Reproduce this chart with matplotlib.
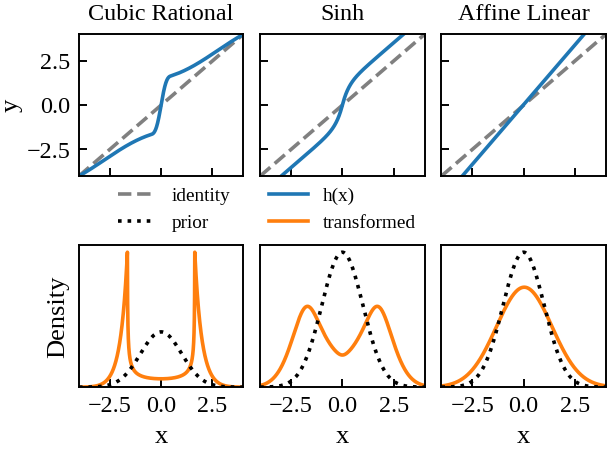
import numpy as np
import matplotlib
matplotlib.use("Agg")
import matplotlib.pyplot as plt
from matplotlib.lines import Line2D

plt.rcParams['font.family'] = ['Liberation Serif', 'DejaVu Serif']
plt.rcParams['mathtext.fontset'] = 'stix'
plt.rcParams['xtick.direction'] = 'in'
plt.rcParams['ytick.direction'] = 'in'
plt.rcParams['font.size'] = 10

titles = ["Cubic Rational", "Sinh", "Affine Linear"]
ticks = [-2.5, 0.0, 2.5]
lims = [-4, 4]

# spline knots / derivatives of the rational flow
knot_x = [-4.0, -0.45, 0.45, 4.0]
knot_y = [-4.0, -1.64, 1.64, 4.0]
knot_d = [0.65, 0.37, 0.37, 0.65]
# sinh flow: amplitude, decay width and core smoothing
sinh_amp, sinh_width, sinh_core = 1.03, 0.28, 0.08
# affine flow
affine_slope, affine_shift = 1.35, 0.03


def h_cubic(x):
    kx, ky, kd = np.array(knot_x), np.array(knot_y), np.array(knot_d)
    inside = (x > kx[0]) & (x < kx[-1])
    xc = np.clip(x, kx[0], kx[-1])
    i = np.clip(np.searchsorted(kx, xc) - 1, 0, len(kx) - 2)
    w = kx[i + 1] - kx[i]
    hh = ky[i + 1] - ky[i]
    s = hh / w
    t = (xc - kx[i]) / w
    num = hh * (s * t ** 2 + kd[i] * t * (1 - t))
    den = s + (kd[i] + kd[i + 1] - 2 * s) * t * (1 - t)
    return np.where(inside, ky[i] + num / den, x)


def h_sinh(x):
    r = np.sqrt(x ** 2 + sinh_core ** 2)
    return x + sinh_amp * (x / r) * (1 - np.exp(-r / sinh_width))


def h_affine(x):
    return affine_slope * x + affine_shift


flows = [h_cubic, h_sinh, h_affine]

xs = np.linspace(-4, 4, 801)
xb = np.linspace(-7, 7, 28001)
prior = np.exp(-xs ** 2 / 2) / np.sqrt(2 * np.pi)
prior_b = np.exp(-xb ** 2 / 2) / np.sqrt(2 * np.pi)

fig, axes = plt.subplots(2, 3, figsize=(3.5, 2.625), dpi=173.43)
fig.subplots_adjust(left=0.130, right=0.998, top=0.924, bottom=0.149,
                    wspace=0.103, hspace=0.49)

for i, (h, title) in enumerate(zip(flows, titles)):
    ax = axes[0, i]
    ax.plot(xs, xs, '--', color='gray', lw=1.5)
    ax.plot(xs, h(xs), color='tab:blue', lw=1.5)
    ax.set_xlim(lims)
    ax.set_ylim(lims)
    ax.set_xticks(ticks)
    ax.set_yticks(ticks)
    ax.set_xticklabels([])
    ax.set_title(title, fontsize=10)
    if i == 0:
        ax.set_ylabel("y", fontsize=11, labelpad=1.5)
    else:
        ax.set_yticklabels([])

    ax = axes[1, i]
    yb = h(xb)
    dens = prior_b / np.gradient(yb, xb)
    ax.plot(yb, dens, color='tab:orange', lw=1.5)
    ax.plot(xs, prior, ':', color='black', lw=1.5)
    ax.set_xlim(lims)
    ax.set_ylim(0, 1.05 * max(dens.max(), prior.max()))
    ax.set_xticks(ticks)
    ax.set_yticks([])
    ax.set_xlabel("x", fontsize=11)
    if i == 0:
        ax.set_ylabel("Density", fontsize=11)

handles = [
    Line2D([], [], ls='--', color='gray', lw=1.5, label='identity'),
    Line2D([], [], ls=':', color='black', lw=1.5, label='prior'),
    Line2D([], [], color='tab:blue', lw=1.5, label='h(x)'),
    Line2D([], [], color='tab:orange', lw=1.5, label='transformed'),
]
fig.legend(handles=handles, ncol=2, frameon=False, fontsize=8,
           loc='center', bbox_to_anchor=(0.440, 0.540))

fig.savefig("out.png")
